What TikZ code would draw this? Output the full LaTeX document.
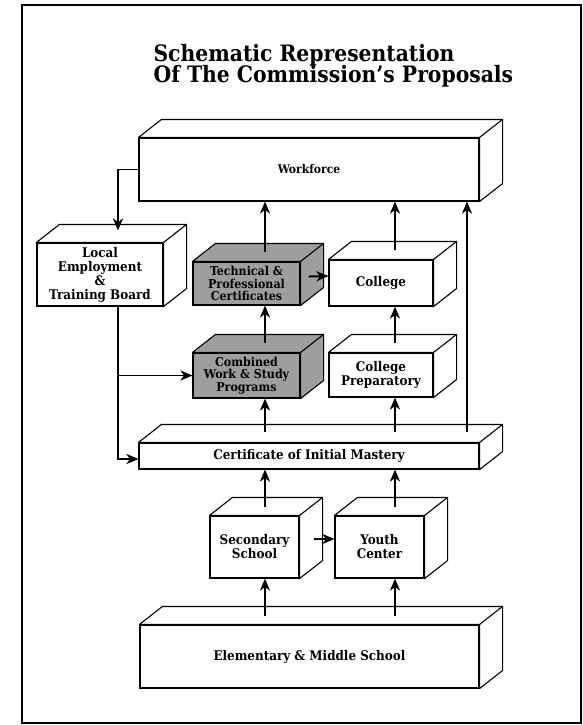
\documentclass[tikz,border=0pt]{standalone}
\usepackage{fontspec}
\setmainfont{DejaVu Serif Condensed}
\usetikzlibrary{arrows.meta,calc}
\definecolor{boxgray}{RGB}{158,158,158}
\newcommand\boxfaces[2]{%
  \filldraw[fill=#2, line width=1.1pt, line join=round]
    (#1.north west) -- ++(23,-18) -- ($(#1.north east)+(23,-18)$)
    -- ($(#1.south east)+(23,-18)$) -- (#1.south east) -- (#1.north east) -- cycle;
  \draw[line width=1.1pt] (#1.north east) -- ++(23,-18);
}
\begin{document}
\begin{tikzpicture}[x=1pt,y=-1pt,
  lbl/.style={font=\bfseries\fontsize{13.3}{14}\selectfont, align=center},
  bx/.style={draw, fill=white, line width=1.1pt, inner sep=0pt, lbl},
  gbx/.style={bx, fill=boxgray},
  arr/.style={line width=1.9pt, -{Stealth[length=12pt,width=10pt,inset=3.5pt]}}]
\useasboundingbox (0,0) rectangle (583,725);
\draw[line width=1.1pt] (22,5) rectangle (581,723);
\node[anchor=base west, font=\bfseries\fontsize{22.6}{22}\selectfont] (t1) at (150,61) {Schematic Representation};
\node[anchor=base west, font=\bfseries\fontsize{22.6}{22}\selectfont] (t2) at (150,82) {Of The Commission’s Proposals};
% boxes
\node[bx, minimum width=340, minimum height=63, font=\bfseries\fontsize{12}{13}\selectfont] (wf) at (309,169.5) {Workforce};
\boxfaces{wf}{white}
\node[bx, minimum width=126, minimum height=63] (loc) at (100,274.5) {Local\\Employment\\\&\\Training Board};
\boxfaces{loc}{white}
\node[gbx, minimum width=107, minimum height=43, font=\bfseries\fontsize{12.3}{12.6}\selectfont] (tech) at (246.5,283.5) {Technical \&\\Professional\\Certificates};
\boxfaces{tech}{boxgray}
\node[bx, minimum width=104, minimum height=46] (coll) at (381,283) {College};
\boxfaces{coll}{white}
\node[gbx, minimum width=107, minimum height=45, font=\bfseries\fontsize{12.3}{12.6}\selectfont] (comb) at (246.5,375.5) {Combined\\Work \& Study\\Programs};
\boxfaces{comb}{boxgray}
\node[bx, minimum width=104, minimum height=44] (prep) at (381,375) {College\\Preparatory};
\boxfaces{prep}{white}
\node[bx, minimum width=340, minimum height=26] (cert) at (309,456) {Certificate of Initial Mastery};
\boxfaces{cert}{white}
\node[bx, minimum width=89, minimum height=62] (sec) at (254.5,547) {Secondary\\School};
\boxfaces{sec}{white}
\node[bx, minimum width=89, minimum height=62] (youth) at (379.5,547) {Youth\\Center};
\boxfaces{youth}{white}
\node[bx, minimum width=339, minimum height=63] (elem) at (309.5,656.5) {Elementary \& Middle School};
\boxfaces{elem}{white}
% column coordinates
\coordinate (c0) at (118,0);
\coordinate (c1) at (265,0);
\coordinate (c2) at (395,0);
\coordinate (c3) at (467,0);
% arrows
\draw[arr] (wf.west) -| ($(c0 |- loc.north)+(0,-12)$);
\draw[arr] ($(c1 |- tech.north)+(0,-9)$) -- (c1 |- wf.south);
\draw[arr] ($(c2 |- coll.north)+(0,-9)$) -- (c2 |- wf.south);
\draw[arr] ($(c3 |- cert.north)+(0,-10)$) -- (c3 |- wf.south);
\draw[arr] ([xshift=8pt,yshift=7pt]tech.east) -- ([yshift=7pt]coll.west);
\draw[arr] ($(c1 |- comb.north)+(0,-9)$) -- (c1 |- tech.south);
\draw[arr] ($(c2 |- prep.north)+(0,-9)$) -- (c2 |- coll.south);
\draw[arr] (c0 |- loc.south) |- ([yshift=-3pt]cert.west);
\draw[arr] (c0 |- comb.west) -- (comb.west);
\draw[arr] ($(c1 |- cert.north)+(0,-10)$) -- (c1 |- comb.south);
\draw[arr] ($(c2 |- cert.north)+(0,-10)$) -- (c2 |- prep.south);
\draw[arr] ($(c1 |- sec.north)+(0,-8)$) -- (c1 |- cert.south);
\draw[arr] ($(c2 |- youth.north)+(0,-8)$) -- (c2 |- cert.south);
\draw[arr] ([xshift=14pt,yshift=8pt]sec.east) -- ([yshift=8pt]youth.west);
\draw[arr] ($(c1 |- elem.north)+(0,-8)$) -- (c1 |- sec.south);
\draw[arr] ($(c2 |- elem.north)+(0,-8)$) -- (c2 |- youth.south);
\end{tikzpicture}
\end{document}
